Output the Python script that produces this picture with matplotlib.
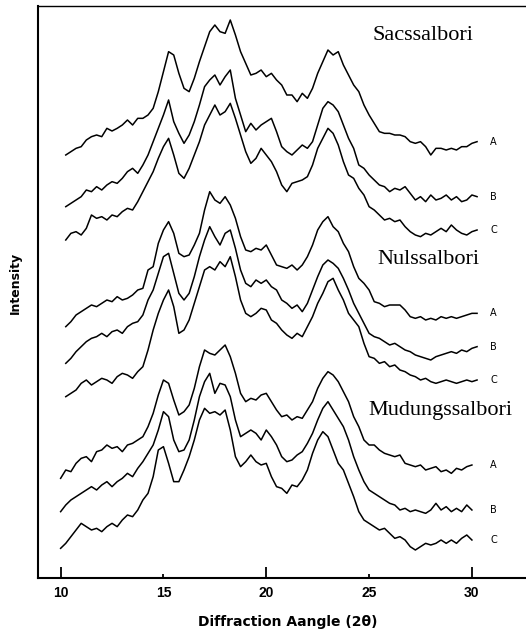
import numpy as np
import matplotlib
matplotlib.use("Agg")
import matplotlib.pyplot as plt


# diffraction angle grids (2 theta, degrees)
angle_a = np.arange(10.25, 30.26, 0.25)
angle_b = np.arange(10.0, 30.01, 0.25)

# intensities (arbitrary units), three samples per rice
sac_a = [280, 290, 300, 305, 325, 335, 340, 335, 360, 352, 360, 370, 385, 370, 390, 390,
         400, 420, 470, 530, 590, 580, 525, 480, 470, 510, 560, 605, 650, 670, 650, 645,
         685, 640, 590, 555, 520, 525, 535, 515, 525, 505, 490, 460, 460, 440, 465, 450,
         480, 525, 560, 595, 580, 590, 550, 520, 490, 470, 430, 400, 375, 350, 345, 345,
         340, 340, 335, 320, 315, 320, 305, 280, 300, 300, 295, 300, 295, 305, 305, 315, 320]
sac_b = [125, 135, 145, 155, 175, 170, 185, 175, 190, 200, 195, 210, 230, 240, 225, 250,
         280, 320, 360, 400, 445, 380, 345, 315, 340, 380, 430, 485, 505, 520, 490, 515,
         535, 450, 400, 350, 375, 355, 370, 380, 390, 350, 305, 290, 280, 295, 310, 300,
         320, 370, 420, 440, 430, 410, 370, 330, 300, 250, 240, 220, 205, 190, 185, 170,
         180, 175, 185, 165, 145, 155, 140, 160, 145, 150, 160, 145, 155, 140, 145, 160, 155]
sac_c = [25, 45, 50, 40, 60, 100, 90, 95, 85, 100, 95, 110, 120, 115, 140, 170,
         200, 230, 270, 305, 330, 280, 225, 210, 240, 280, 320, 370, 400, 430, 400, 410,
         435, 390, 340, 290, 255, 270, 300, 280, 260, 230, 190, 170, 195, 200, 205, 215,
         250, 300, 330, 360, 345, 310, 260, 220, 210, 180, 160, 125, 115, 100, 85, 90,
         80, 85, 65, 50, 40, 35, 45, 40, 50, 60, 50, 70, 55, 45, 40, 50, 55]

nul_a = [290, 305, 325, 335, 345, 355, 350, 360, 370, 365, 380, 370, 375, 385, 400, 405,
         460, 470, 540, 580, 605, 570, 510, 500, 505, 535, 570, 640, 695, 670, 660, 680,
         655, 615, 560, 520, 515, 525, 520, 535, 505, 475, 470, 465, 475, 460, 475, 500,
         535, 580, 605, 620, 590, 575, 540, 515, 470, 435, 420, 400, 365, 360, 350, 355,
         355, 355, 340, 320, 315, 320, 310, 315, 310, 320, 315, 320, 315, 320, 325, 330, 330]
nul_b = [180, 195, 215, 230, 245, 255, 260, 270, 260, 275, 280, 270, 290, 300, 305, 325,
         370, 400, 450, 500, 510, 450, 390, 370, 390, 440, 500, 550, 590, 560, 535, 570,
         580, 525, 460, 420, 410, 430, 420, 430, 410, 400, 370, 360, 345, 355, 335, 360,
         400, 440, 475, 490, 480, 465, 435, 400, 360, 330, 300, 270, 260, 255, 245, 235,
         240, 230, 220, 215, 205, 200, 195, 190, 200, 205, 210, 215, 210, 220, 215, 225, 230]
nul_c = [80, 90, 100, 120, 130, 115, 125, 135, 130, 120, 140, 150, 145, 135, 155, 170,
         220, 280, 330, 370, 400, 350, 270, 280, 310, 360, 410, 460, 470, 460, 485, 470,
         500, 440, 370, 330, 320, 330, 345, 340, 310, 300, 280, 265, 255, 270, 260, 290,
         320, 360, 390, 425, 435, 400, 370, 330, 310, 290, 240, 200, 195, 180, 185, 170,
         175, 160, 155, 145, 140, 130, 135, 125, 120, 125, 130, 125, 120, 125, 130, 125, 130]

mud_a = [255, 280, 275, 300, 315, 320, 305, 335, 340, 355, 345, 350, 335, 355, 360, 370,
         380, 410, 450, 505, 550, 540, 490, 445, 455, 475, 525, 590, 640, 630, 625, 640,
         655, 620, 570, 510, 485, 495, 490, 505, 510, 485, 460, 440, 445, 430, 440, 435,
         460, 485, 525, 555, 575, 565, 545, 515, 485, 440, 410, 370, 355, 355, 340, 330,
         325, 320, 325, 300, 295, 290, 295, 280, 285, 290, 275, 280, 270, 285, 280, 290, 295]
mud_b = [155, 175, 190, 200, 210, 220, 230, 220, 235, 245, 230, 245, 255, 270, 260, 285,
         305, 330, 355, 400, 455, 440, 370, 335, 340, 370, 430, 500, 545, 570, 510, 540,
         535, 500, 430, 380, 390, 400, 390, 370, 400, 380, 355, 320, 305, 310, 325, 335,
         360, 390, 430, 465, 485, 460, 435, 410, 370, 320, 280, 245, 220, 210, 200, 190,
         180, 175, 160, 165, 155, 160, 155, 150, 160, 180, 160, 170, 155, 165, 155, 175, 160]
mud_c = [45, 60, 80, 100, 120, 110, 100, 105, 95, 110, 120, 110, 130, 145, 140, 160,
         190, 210, 260, 340, 350, 300, 245, 245, 280, 320, 370, 430, 465, 450, 455, 445,
         460, 400, 320, 290, 305, 325, 305, 295, 300, 260, 230, 225, 210, 235, 230, 250,
         280, 330, 370, 395, 380, 340, 300, 280, 240, 200, 155, 130, 120, 110, 100, 105,
         90, 75, 80, 70, 50, 40, 50, 60, 55, 60, 70, 60, 70, 60, 75, 85, 70]

samples = ["Sacssalbori", "Nulssalbori", "Mudungssalbori"]
traces = [[sac_a, sac_b, sac_c], [nul_a, nul_b, nul_c], [mud_a, mud_b, mud_c]]
grids = [angle_a, angle_a, angle_b]
letters = ["A", "B", "C"]

# vertical shift of each group in the stack
shifts = [989, 464, 44]
title_pos = [(27.63, 1629), (27.87, 954), (28.45, 504)]


fig = plt.figure(figsize=(5.26, 6.35), dpi=100)
ax = fig.add_axes([38 / 526, 57 / 635, 488 / 526, 572 / 635])

for name, group, x, shift, tpos in zip(samples, traces, grids, shifts, title_pos):
    for letter, counts in zip(letters, group):
        y = np.array(counts) + shift
        ax.plot(x, y, color="black", lw=1.1)
        ax.text(31.05, y[-1], letter, fontsize=7, family="DejaVu Sans",
                ha="center", va="center")
    ax.text(tpos[0], tpos[1], name, fontsize=16, family="Liberation Serif",
            ha="center", va="center")

ax.set_xlim(8.9, 32.63)
ax.set_ylim(0, 1716)
ax.set_yticks([])
ax.set_xticks([10, 20, 30])
ax.set_xticks([15, 25], minor=True)
lab = dict(fontsize=10, fontweight="bold", family="Liberation Sans")
ax.set_xticklabels(["10", "20", "30"], **lab)
ax.set_xticklabels(["15", "25"], minor=True, **lab)
ax.tick_params(axis="x", which="major", direction="in", length=8, width=1.3, pad=6)
ax.tick_params(axis="x", which="minor", direction="in", length=3, width=1.3, pad=6)

ax.spines["right"].set_visible(False)
for s in ("left", "bottom"):
    ax.spines[s].set_linewidth(1.5)
ax.spines["top"].set_linewidth(1.0)

fig.text(15 / 526, 1 - 283 / 635, "Intensity", rotation=90, fontsize=9,
         fontweight="bold", family="DejaVu Sans", ha="center", va="center")
fig.text(288 / 526, 1 - 622 / 635, "Diffraction Aangle (2\u03b8)", fontsize=10,
         fontweight="bold", family="DejaVu Sans", ha="center", va="center")

fig.savefig("out.png", dpi=100)
